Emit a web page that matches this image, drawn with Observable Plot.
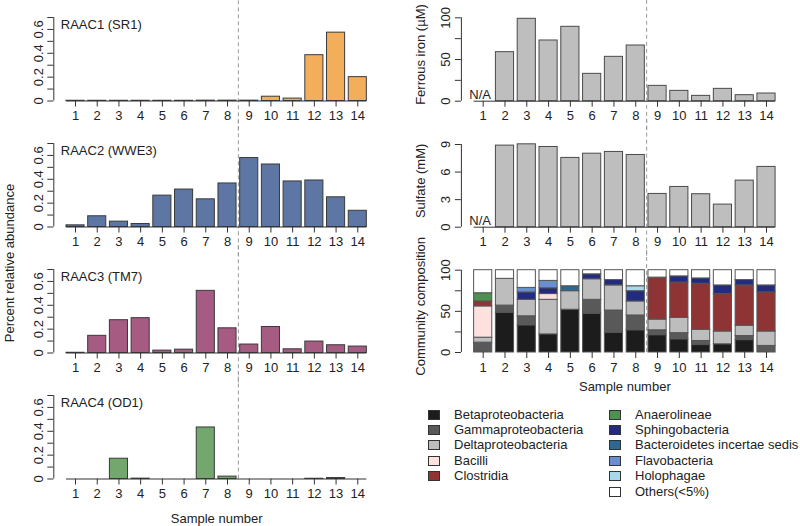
<!DOCTYPE html>
<html><head><meta charset="utf-8">
<script src="https://cdn.jsdelivr.net/npm/d3@7"></script>
<script src="https://cdn.jsdelivr.net/npm/@observablehq/plot@0.6"></script>
<style>
body{margin:0;background:#fff;font-family:"Liberation Sans",Arial,sans-serif;}
#root{position:relative;width:800px;height:526px;overflow:hidden;background:#fff;}
.panel{position:absolute;}
.panel svg{overflow:visible;}
.ylab{position:absolute;white-space:nowrap;font-size:13px;color:#222;transform:translate(-50%,-50%) rotate(-90deg);}
.legend{position:absolute;font-size:13px;color:#222;}
.legend .item{position:absolute;white-space:nowrap;height:15px;line-height:15px;}
.legend .sw{position:absolute;width:10px;height:8px;border:1px solid #333;top:3px;}
.legend .lb{position:absolute;}
</style></head><body><div id="root"></div>
<script>
// ---------- data ----------
const samples = [1,2,3,4,5,6,7,8,9,10,11,12,13,14];
const raac1 = [0.002,0.002,0.002,0.002,0.002,0.002,0.003,0.003,0.003,0.036,0.02,0.384,0.573,0.2];
const raac2 = [0.014,0.09,0.045,0.025,0.263,0.314,0.232,0.365,0.578,0.524,0.382,0.39,0.249,0.136];
const raac3 = [0.002,0.144,0.275,0.292,0.02,0.028,0.521,0.207,0.071,0.218,0.031,0.096,0.065,0.054];
const raac4 = [0,0,0.17,0.003,0,0,0.432,0.02,0,0,0,0.002,0.008,0];
const raacTitles = ["RAAC1 (SR1)","RAAC2 (WWE3)","RAAC3 (TM7)","RAAC4 (OD1)"];
const ferrous = [null,58.8,98.8,72.8,89.2,32.8,53.2,66.8,18.4,12.4,6.4,14.8,7.2,9.2];
const sulfate = [null,8.88,9.02,8.73,7.54,8.0,8.19,7.86,3.62,4.38,3.59,2.46,5.07,6.56];

const taxa = ["Betaproteobacteria","Gammaproteobacteria","Deltaproteobacteria","Bacilli","Clostridia",
  "Anaerolineae","Sphingobacteria","Bacteroidetes incertae sedis","Flavobacteria","Holophagae","Others(<5%)"];
const beta          = [0,48,33,22,52,47,24,27,21,16,9,10,15,0];
const gamma         = [12,9,11,0,0,17,27,18,6,7.5,5,0,5,8];
const delta         = [6,32.5,20,42,22.5,25,30.5,17,13,18.5,13.5,15.5,12.5,17.5];
const bacilli       = [38,0,0,7,0,0,0,0,0,0,0,0,0,0];
const clostridia    = [6,0,0,0,0,0,0,0,51,43,56,45.5,49,47.5];
const anaerolineae  = [10,0,0,0,0,0,0,0,0,0,0,0,0,0];
const sphingo       = [0,0,9,7,0,6,6.5,12.5,0,7.5,6.5,10.5,6.5,8.5];
const bacteroidetes = [0,0,0,0,6,0,0,0,0,0,0,0,0,0];
const flavo         = [0,0,5.5,9,0,0,0,0,0,0,0,0,0,0];
const holophagae    = [0,0,0,0,0,0,0,6,0,0,0,0,0,0];
const others        = [28,10.5,21.5,13,19.5,5,12,19.5,9,7.5,10,18.5,12,18.5];

const raacTicks = [0,0.1,0.2,0.3,0.4,0.5,0.6,0.7];
const raacTickLabels = [0,0.2,0.4,0.6];
const ferrousTicks = [0,25,50,75,100];
const ferrousTickLabels = [0,50,100];
const sulfateTicks = [0,3,6,9];
const compTicks = [0,25,50,75,100];
const compTickLabels = [0,50,100];
const splitAfter = 8.5; // boundary between samples 8 and 9

// ---------- styles ----------
const raacColors = ["#F2AE5B","#5D76A4","#A55B82","#74A76D"];
const barGrey = "#BEBEBE";
const taxonColors = ["#1C1C1C","#595959","#BDBDBD","#FCE1DF","#8E3434","#4E9150","#232B7E","#2E6791","#6A8FD1","#A9D8EA","#FFFFFF"];
const BW = 0.5/1.2;
const ink = "#333";
const style = {background:"transparent", fontFamily:'"Liberation Sans",Arial,sans-serif', fontSize:"13px", color:"#222", overflow:"visible"};

const root = document.getElementById("root");
function place(el, left, top){ const d=document.createElement("div"); d.className="panel"; d.style.left=left+"px"; d.style.top=top+"px"; d.appendChild(el); root.appendChild(d); }

function yAxis(ticks, labels){
  return Plot.axisY({ticks, label:null, tickFormat: d => labels.includes(d) ? String(d) : "", tickRotate:-90, textAnchor:"middle", lineAnchor:"bottom", tickSize:6, tickPadding:5, stroke:ink, fill:"#222"});
}
function xAxis(){
  return Plot.axisX({ticks: samples, label:null, tickSize:6, tickPadding:4, tickFormat: d=>String(d), stroke:ink, fill:"#222"});
}

// ---------- left panels ----------
const raacSeries = [raac1, raac2, raac3, raac4];
raacSeries.forEach((vals, k) => {
  const last = k === 3;
  const h = last ? 148 : 126;
  const data = samples.map((s,i)=>({s, v: vals[i]}));
  const marks = [
    Plot.ruleX([splitAfter], {y1: last ? 0 : -0.25, y2: 0.9, stroke:"#999", strokeDasharray:"4,3"}),
    Plot.rectY(data, {x1: d=>d.s-BW, x2: d=>d.s+BW, y1: 0, y2: "v", fill: raacColors[k], stroke:"#3a3a3a", strokeWidth:1}),
    Plot.ruleY([0], {x1: samples[0]-BW, x2: samples[samples.length-1]+BW, stroke: ink}),
    Plot.ruleX([0], {y1: 0, y2: 0.7, stroke: ink}),
    xAxis(),
    yAxis(raacTicks, raacTickLabels),
    Plot.text([raacTitles[k]], {frameAnchor:"top-left", dx:7, dy:2, fill:"#222"})
  ];
  if (last) marks.push(Plot.text(["Sample number"], {frameAnchor:"bottom", lineAnchor:"middle", dy:39.5, fill:"#222"}));
  const p = Plot.plot({
    width:400, height:h, marginLeft:53.3, marginRight:21, marginTop:17, marginBottom:h-100.5,
    x:{domain:[0,15]}, y:{domain:[0,0.7]}, style, marks
  });
  place(p, 0, 126*k);
});

// ---------- right panels ----------
function greyPanel(vals, domain, ticks, labels, ylabel, top, mt){
  const data = samples.map((s,i)=>({s, v: vals[i]}));
  const na = data.filter(d => d.v == null);
  const p = Plot.plot({
    width:400, height:126, marginLeft:60.9, marginRight:12.2, marginTop:mt, marginBottom:25.3,
    x:{domain:[0,15]}, y:{domain},
    style,
    marks:[
      Plot.ruleX([splitAfter], {y1: -domain[1]*0.35, y2: domain[1]*1.3, stroke:"#999", strokeDasharray:"4,3"}),
      Plot.rectY(data.filter(d=>d.v!=null), {x1: d=>d.s-BW, x2: d=>d.s+BW, y1:0, y2:"v", fill:barGrey, stroke:"#4a4a4a", strokeWidth:1}),
      Plot.ruleY([0], {x1: samples[0]-BW, x2: samples[samples.length-1]+BW, stroke: ink}),
      Plot.ruleX([0], {y1: domain[0], y2: domain[1], stroke: ink}),
      xAxis(),
      yAxis(ticks, labels),
      Plot.text(na, {x:"s", y:0, text: () => "N/A", lineAnchor:"bottom", dy:-2, dx:-3, fill:"#222"}),
      Plot.text([ylabel], {frameAnchor:"left", rotate:-90, textAnchor:"middle", lineAnchor:"middle", dx:-40.4, dy:-5, fill:"#222"})
    ]
  });
  place(p, 400, top);
}
greyPanel(ferrous, [0,100], ferrousTicks, ferrousTickLabels, "Ferrous iron (µM)", 0, 17.3);
greyPanel(sulfate, [0,9], sulfateTicks, sulfateTicks, "Sulfate (mM)", 126, 18);

// community composition (stacked)
const compSeries = [beta, gamma, delta, bacilli, clostridia, anaerolineae, sphingo, bacteroidetes, flavo, holophagae, others];
const stacked = [];
samples.forEach((s,i) => {
  let acc = 0;
  taxa.forEach((t,j) => {
    const v = compSeries[j][i];
    if (v > 0) stacked.push({s, taxon:t, y1:acc, y2:acc+v});
    acc += v;
  });
});
const comp = Plot.plot({
  width:400, height:145, marginLeft:60.9, marginRight:12.2, marginTop:17.7, marginBottom:45,
  x:{domain:[0,15]}, y:{domain:[0,100]},
  color:{domain:taxa, range:taxonColors},
  style,
  marks:[
    Plot.ruleX([splitAfter], {y1: 0, y2: 125, stroke:"#999", strokeDasharray:"4,3"}),
    Plot.rectY(stacked, {x1: d=>d.s-BW, x2: d=>d.s+BW, y1:"y1", y2:"y2", fill:"taxon", stroke:"#555", strokeWidth:1}),
    Plot.ruleX([0], {y1: 0, y2: 100, stroke: ink}),
    xAxis(),
    yAxis(compTicks, compTickLabels),
    Plot.text(["Community composition"], {frameAnchor:"left", rotate:-90, textAnchor:"middle", lineAnchor:"middle", dx:-40.4, dy:-5, fill:"#222"}),
    Plot.text(["Sample number"], {frameAnchor:"bottom", lineAnchor:"middle", dy:34, fill:"#222"})
  ]
});
place(comp, 400, 252);

// overall y label for left column
const yl = document.createElement("div");
yl.className = "ylab"; yl.style.left = "8.5px"; yl.style.top = "263px";
yl.textContent = "Percent relative abundance";
root.appendChild(yl);

// legend
const leg = document.createElement("div");
leg.className = "legend"; leg.style.left = "0px"; leg.style.top = "0px";
taxa.forEach((t,j) => {
  const col = j < 5 ? 0 : 1;
  const row = j < 5 ? j : j - 5;
  const it = document.createElement("div");
  it.className = "item";
  it.style.left = (col ? 609 : 428) + "px";
  it.style.top = (406.5 + row*15.4) + "px";
  const sw = document.createElement("div");
  sw.className = "sw"; sw.style.left = "0px"; sw.style.background = taxonColors[j];
  const lb = document.createElement("div");
  lb.className = "lb"; lb.style.left = "26px"; lb.textContent = t;
  it.appendChild(sw); it.appendChild(lb);
  leg.appendChild(it);
});
root.appendChild(leg);
</script>
</body></html>
